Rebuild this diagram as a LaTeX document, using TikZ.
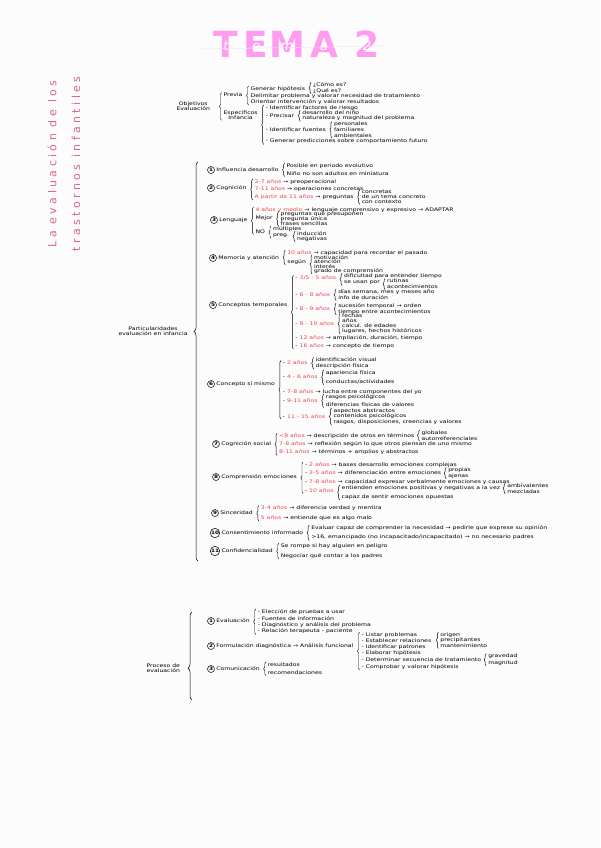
\documentclass[tikz,border=0pt]{standalone}
\usepackage{fontspec}
\setmainfont[FakeStretch=1.25]{DejaVu Sans}
\newfontfamily\sidefont[LetterSpace=31]{DejaVu Sans}
\newfontfamily\headfont{DejaVu Sans}
\usepackage{xcolor}
\usepackage{tikz}
\usetikzlibrary{positioning,decorations.pathreplacing}

\definecolor{agered}{HTML}{E8474F}
\definecolor{titlepink}{HTML}{FF9CF0}
\definecolor{sidepink}{HTML}{D8668A}
\definecolor{paper}{HTML}{FCFCFC}

% brace from first to last child, tip towards the parent
\newcommand{\brk}[2]{\draw[brc] ([xshift=-1.5pt]#2.south west) -- ([xshift=-1.5pt]#1.north west);}
\newcommand{\ag}[1]{\textcolor{agered}{#1}}
% big pink letter with the white script letter on it
\newcommand{\tletter}[2]{\ooalign{#1\cr\hidewidth\raisebox{7pt}{\fontsize{13}{13}\selectfont\mdseries\itshape\textcolor{white}{#2}}\hidewidth\cr}}

\begin{document}
\begin{tikzpicture}[x=1pt,y=1pt,
  tx/.style={anchor=west,inner sep=.4pt,font=\fontsize{4.9}{5.4}\selectfont},
  hd/.style={tx,align=center},
  numc/.style={draw,circle,line width=.5pt,inner sep=.3pt,minimum size=7pt,
               font=\fontsize{4.6}{5}\selectfont\bfseries},
  brc/.style={decorate,decoration={brace,amplitude=2pt},line width=.45pt},
  bigbrc/.style={decorate,line width=.5pt},
  ttl/.style={font=\headfont\fontsize{36}{36}\selectfont\bfseries,text=titlepink,inner sep=0pt},
  side/.style={font=\sidefont\fontsize{11}{11}\selectfont,text=sidepink,rotate=90,inner sep=0pt}
]
\fill[paper] (0,0) rectangle (600,-848);
\useasboundingbox (0,0) rectangle (600,-848);

% title
\node[ttl] (tT) at (226,-44) {\tletter{T}{t}};
\node[ttl] (tE) at (256,-44) {\tletter{E}{e}};
\node[ttl] (tM) at (287,-44) {\tletter{M}{m}};
\node[ttl] (tA) at (324,-44) {\tletter{A}{a}};
\node[ttl] (t2) at (367,-44) {\tletter{2}{2}};
\draw[titlepink!35,line width=.5pt] ([xshift=-12pt,yshift=-5pt]tT.west) -- ([xshift=6pt,yshift=-2pt]t2.east);

\node[side] (st1) at (52,-164) {La evaluación de los};
\node[side] (st2) at (76,-164) {trastornos infantiles};

% objetivos
\node[hd] (obj) at (176,-106) {Objetivos\\Evaluación};
\node[tx] (prv) at (223,-95) {Previa};
\node[hd] (esp) at (223,-115) {Específicos\\Infancia};
\brk{prv}{esp}

\node[tx] (hip) at ([xshift=7pt,yshift=6pt]prv.east) {Generar hipótesis};
\node[tx] (del) at ([xshift=7pt,yshift=-1pt]prv.east) {Delimitar problema y valorar necesidad de tratamiento};
\node[tx] (ori) at ([xshift=7pt,yshift=-7pt]prv.east) {Orientar intervención y valorar resultados};
\brk{hip}{ori}
\node[tx] (qcm) at ([xshift=7pt,yshift=4pt]hip.east) {¿Cómo es?};
\node[tx] (qqe) at ([xshift=7pt,yshift=-2pt]hip.east) {¿Qué es?};
\brk{qcm}{qqe}

\node[tx] (rsg) at ([xshift=7pt,yshift=7pt]esp.east) {- Identificar factores de riesgo};
\node[tx] (pre) at ([xshift=7pt,yshift=-1pt]esp.east) {- Precisar};
\node[tx] (fue) at ([xshift=7pt,yshift=-14.5pt]esp.east) {- Identificar fuentes};
\node[tx] (gen) at ([xshift=7pt,yshift=-26.5pt]esp.east) {- Generar predicciones sobre comportamiento futuro};
\brk{rsg}{gen}
\node[tx] (dsn) at ([xshift=7pt,yshift=3.5pt]pre.east) {desarrollo del niño};
\node[tx] (nat) at ([xshift=7pt,yshift=-2.5pt]pre.east) {naturaleza y magnitud del problema};
\brk{dsn}{nat}
\node[tx] (fpe) at ([xshift=7pt,yshift=5pt]fue.east) {personales};
\node[tx] (ffa) at ([xshift=7pt,yshift=-.5pt]fue.east) {familiares};
\node[tx] (fam) at ([xshift=7pt,yshift=-6pt]fue.east) {ambientales};
\brk{fpe}{fam}

% particularidades
\node[hd] (part) at (118,-331) {Particularidades\\evaluación en infancia};
\coordinate (pb1) at (198,-162);
\coordinate (pb2) at (198,-561);
\draw[bigbrc,decoration={brace,amplitude=4pt,aspect=.575}] (pb2) -- (pb1);

% 1 influencia
\node[numc] (n1) at (211,-170) {1};
\node[tx,right=1pt of n1] (i1) {Influencia desarrollo};
\node[tx] (a1) at ([xshift=7pt,yshift=4pt]i1.east) {Posible en periodo evolutivo};
\node[tx] (a2) at ([xshift=7pt,yshift=-4pt]i1.east) {Niño no son adultos en miniatura};
\brk{a1}{a2}

% 2 cognicion
\node[numc] (n2) at (211,-188) {2};
\node[tx,right=1pt of n2] (i2) {Cognición};
\node[tx] (c21) at ([xshift=7pt,yshift=6pt]i2.east) {\ag{2-7 años} → preoperacional};
\node[tx] (c22) at ([xshift=7pt,yshift=-1pt]i2.east) {\ag{7-11 años} → operaciones concretas};
\node[tx] (c23) at ([xshift=7pt,yshift=-9pt]i2.east) {\ag{A partir de 11 años} → preguntas};
\brk{c21}{c23}
\node[tx] (c31) at ([xshift=7pt,yshift=5pt]c23.east) {concretas};
\node[tx] (c32) at ([xshift=7pt,yshift=0pt]c23.east) {de un tema concreto};
\node[tx] (c33) at ([xshift=7pt,yshift=-5pt]c23.east) {con contexto};
\brk{c31}{c33}

% 3 lenguaje
\node[numc] (n3) at (214,-220) {3};
\node[tx,right=1pt of n3] (i3) {Lenguaje};
\node[tx] (l1) at ([xshift=7pt,yshift=10pt]i3.east) {\ag{4 años y medio} → lenguaje comprensivo y expresivo → ADAPTAR};
\node[tx] (l2) at ([xshift=7pt,yshift=2pt]i3.east) {Mejor};
\node[tx] (l3) at ([xshift=7pt,yshift=-12pt]i3.east) {NO};
\brk{l1}{l3}
\node[tx] (m21) at ([xshift=7pt,yshift=4pt]l2.east) {preguntas que presuponen};
\node[tx] (m22) at ([xshift=7pt,yshift=-1pt]l2.east) {pregunta única};
\node[tx] (m23) at ([xshift=7pt,yshift=-6pt]l2.east) {frases sencillas};
\brk{m21}{m23}
\node[tx] (no1) at ([xshift=7pt,yshift=3pt]l3.east) {múltiples};
\node[tx] (no2) at ([xshift=7pt,yshift=-4pt]l3.east) {preg.};
\brk{no1}{no2}
\node[tx] (pg1) at ([xshift=7pt,yshift=2.5pt]no2.east) {inducción};
\node[tx] (pg2) at ([xshift=7pt,yshift=-3pt]no2.east) {negativas};
\brk{pg1}{pg2}

% 4 memoria
\node[numc] (n4) at (213,-258) {4};
\node[tx,right=1pt of n4] (i4) {Memoria y atención};
\node[tx] (me1) at ([xshift=7pt,yshift=5pt]i4.east) {\ag{10 años} → capacidad para recordar el pasado};
\node[tx] (me2) at ([xshift=7pt,yshift=-4pt]i4.east) {según};
\brk{me1}{me2}
\node[tx] (sg1) at ([xshift=7pt,yshift=4.5pt]me2.east) {motivación};
\node[tx] (sg2) at ([xshift=7pt,yshift=0pt]me2.east) {atención};
\node[tx] (sg3) at ([xshift=7pt,yshift=-4.5pt]me2.east) {interés};
\node[tx] (sg4) at ([xshift=7pt,yshift=-9pt]me2.east) {grado de comprensión};
\brk{sg1}{sg4}

% 5 conceptos temporales
\node[numc] (n5) at (213,-305) {5};
\node[tx,right=1pt of n5] (i5) {Conceptos temporales};
\node[tx] (t1) at ([xshift=7pt,yshift=27pt]i5.east) {- \ag{3/5 - 5 años}};
\node[tx] (t2) at ([xshift=7pt,yshift=10pt]i5.east) {- \ag{6 - 8 años}};
\node[tx] (t3) at ([xshift=7pt,yshift=-4pt]i5.east) {- \ag{8 - 9 años}};
\node[tx] (t4) at ([xshift=7pt,yshift=-19pt]i5.east) {- \ag{9 - 10 años}};
\node[tx] (t5) at ([xshift=7pt,yshift=-33.5pt]i5.east) {- \ag{12 años} → ampliación, duración, tiempo};
\node[tx] (t6) at ([xshift=7pt,yshift=-41pt]i5.east) {- \ag{16 años} → concepto de tiempo};
\brk{t1}{t6}
\node[tx] (t11) at ([xshift=7pt,yshift=2pt]t1.east) {dificultad para entender tiempo};
\node[tx] (t12) at ([xshift=7pt,yshift=-5pt]t1.east) {se usan por};
\brk{t11}{t12}
\node[tx] (ru1) at ([xshift=6pt,yshift=2pt]t12.east) {rutinas};
\node[tx] (ru2) at ([xshift=6pt,yshift=-4pt]t12.east) {acontecimientos};
\brk{ru1}{ru2}
\node[tx] (t21) at ([xshift=7pt,yshift=3pt]t2.east) {días semana, mes y meses año};
\node[tx] (t22) at ([xshift=7pt,yshift=-3pt]t2.east) {info de duración};
\brk{t21}{t22}
\node[tx] (t31) at ([xshift=7pt,yshift=3pt]t3.east) {sucesión temporal → orden};
\node[tx] (t32) at ([xshift=7pt,yshift=-3pt]t3.east) {tiempo entre acontecimientos};
\brk{t31}{t32}
\node[tx] (t41) at ([xshift=7pt,yshift=8pt]t4.east) {fechas};
\node[tx] (t42) at ([xshift=7pt,yshift=3pt]t4.east) {años};
\node[tx] (t43) at ([xshift=7pt,yshift=-2pt]t4.east) {calcul. de edades};
\node[tx] (t44) at ([xshift=7pt,yshift=-7pt]t4.east) {lugares, hechos históricos};
\brk{t41}{t44}

% 6 concepto si mismo
\node[numc] (n6) at (211,-384) {6};
\node[tx,right=1pt of n6] (i6) {Concepto sí mismo};
\node[tx] (s1) at ([xshift=7pt,yshift=21pt]i6.east) {- \ag{2 años}};
\node[tx] (s2) at ([xshift=7pt,yshift=7pt]i6.east) {- \ag{4 - 6 años}};
\node[tx] (s3) at ([xshift=7pt,yshift=-8pt]i6.east) {- \ag{7-8 años} → lucha entre componentes del yo};
\node[tx] (s4) at ([xshift=7pt,yshift=-17pt]i6.east) {- \ag{9-11 años}};
\node[tx] (s5) at ([xshift=7pt,yshift=-32.5pt]i6.east) {- \ag{11 - 15 años}};
\brk{s1}{s5}
\node[tx] (s11) at ([xshift=7pt,yshift=3pt]s1.east) {identificación visual};
\node[tx] (s12) at ([xshift=7pt,yshift=-3pt]s1.east) {descripción física};
\brk{s11}{s12}
\node[tx] (s21) at ([xshift=7pt,yshift=4pt]s2.east) {apariencia física};
\node[tx] (s22) at ([xshift=7pt,yshift=-5pt]s2.east) {conductas/actividades};
\brk{s21}{s22}
\node[tx] (s41) at ([xshift=7pt,yshift=4pt]s4.east) {rasgos psicológicos};
\node[tx] (s42) at ([xshift=7pt,yshift=-4pt]s4.east) {diferencias físicas de valores};
\brk{s41}{s42}
\node[tx] (s51) at ([xshift=7pt,yshift=5.5pt]s5.east) {aspectos abstractos};
\node[tx] (s52) at ([xshift=7pt,yshift=0pt]s5.east) {contenidos psicológicos};
\node[tx] (s53) at ([xshift=7pt,yshift=-5.5pt]s5.east) {rasgos, disposiciones, creencias y valores};
\brk{s51}{s53}

% 7 cognicion social
\node[numc] (n7) at (216,-444) {7};
\node[tx,right=1pt of n7] (i7) {Cognición social};
\node[tx] (o1) at ([xshift=7pt,yshift=8pt]i7.east) {\ag{<8 años} → descripción de otros en términos};
\node[tx] (o2) at ([xshift=7pt,yshift=0pt]i7.east) {\ag{7-8 años} → reflexión según lo que otros piensan de uno mismo};
\node[tx] (o3) at ([xshift=7pt,yshift=-8.5pt]i7.east) {\ag{8-11 años} → términos + amplios y abstractos};
\brk{o1}{o3}
\node[tx] (o11) at ([xshift=6pt,yshift=3pt]o1.east) {globales};
\node[tx] (o12) at ([xshift=6pt,yshift=-2.5pt]o1.east) {autorreferenciales};
\brk{o11}{o12}

% 8 comprension emociones
\node[numc] (n8) at (216,-477) {8};
\node[tx,right=1pt of n8] (i8) {Comprensión emociones};
\node[tx] (e1) at ([xshift=7pt,yshift=12pt]i8.east) {- \ag{2 años} → bases desarrollo emociones complejas};
\node[tx] (e2) at ([xshift=7pt,yshift=4pt]i8.east) {- \ag{3-5 años} → diferenciación entre emociones};
\node[tx] (e3) at ([xshift=7pt,yshift=-5pt]i8.east) {- \ag{7-8 años} → capacidad expresar verbalmente emociones y causas};
\node[tx] (e4) at ([xshift=7pt,yshift=-14pt]i8.east) {- \ag{10 años}};
\brk{e1}{e4}
\node[tx] (e21) at ([xshift=6pt,yshift=2.5pt]e2.east) {propias};
\node[tx] (e22) at ([xshift=6pt,yshift=-3pt]e2.east) {ajenas};
\brk{e21}{e22}
\node[tx] (e41) at ([xshift=7pt,yshift=3pt]e4.east) {entienden emociones positivas y negativas a la vez};
\node[tx] (e42) at ([xshift=7pt,yshift=-6pt]e4.east) {capaz de sentir emociones opuestas};
\brk{e41}{e42}
\node[tx] (e51) at ([xshift=6pt,yshift=2.5pt]e41.east) {ambivalentes};
\node[tx] (e52) at ([xshift=6pt,yshift=-3.5pt]e41.east) {mezcladas};
\brk{e51}{e52}

% 9 sinceridad
\node[numc] (n9) at (215,-513) {9};
\node[tx,right=1pt of n9] (i9) {Sinceridad};
\node[tx] (r1) at ([xshift=7pt,yshift=4.5pt]i9.east) {\ag{3-4 años} → diferencia verdad y mentira};
\node[tx] (r2) at ([xshift=7pt,yshift=-5pt]i9.east) {\ag{5 años} → entiende que es algo malo};
\brk{r1}{r2}

% 10 consentimiento
\node[numc] (n10) at (215,-533) {10};
\node[tx,right=1pt of n10] (i10) {Consentimiento informado};
\node[tx] (co1) at ([xshift=7pt,yshift=5pt]i10.east) {Evaluar capaz de comprender la necesidad → pedirle que exprese su opinión};
\node[tx] (co2) at ([xshift=7pt,yshift=-4.5pt]i10.east) {>16, emancipado (no incapacitado/incapacitado) → no necesario padres};
\brk{co1}{co2}

% 11 confidencialidad
\node[numc] (n11) at (215,-551) {11};
\node[tx,right=1pt of n11] (i11) {Confidencialidad};
\node[tx] (cf1) at ([xshift=7pt,yshift=5pt]i11.east) {Se rompe si hay alguien en peligro};
\node[tx] (cf2) at ([xshift=7pt,yshift=-5pt]i11.east) {Negociar qué contar a los padres};
\brk{cf1}{cf2}

% proceso de evaluacion
\node[hd] (proc) at (146,-668) {Proceso de\\evaluación};
\coordinate (pe1) at (192,-612);
\coordinate (pe2) at (192,-700);
\draw[bigbrc,decoration={brace,amplitude=4pt,aspect=.36}] (pe2) -- (pe1);

\node[numc] (q1) at (211,-621) {1};
\node[tx,right=1pt of q1] (p1) {Evaluación};
\node[tx] (p11) at ([xshift=7pt,yshift=9pt]p1.east) {- Elección de pruebas a usar};
\node[tx] (p12) at ([xshift=7pt,yshift=2.5pt]p1.east) {- Fuentes de información};
\node[tx] (p13) at ([xshift=7pt,yshift=-4pt]p1.east) {- Diagnóstico y análisis del problema};
\node[tx] (p14) at ([xshift=7pt,yshift=-10.5pt]p1.east) {- Relación terapeuta - paciente};
\brk{p11}{p14}

\node[numc] (q2) at (211,-646) {2};
\node[tx,right=1pt of q2] (p2) {Formulación diagnóstica → Análisis funcional};
\node[tx] (p21) at ([xshift=7pt,yshift=11pt]p2.east) {- Listar problemas};
\node[tx] (p22) at ([xshift=7pt,yshift=5pt]p2.east) {- Establecer relaciones};
\node[tx] (p23) at ([xshift=7pt,yshift=-1pt]p2.east) {- Identificar patrones};
\node[tx] (p24) at ([xshift=7pt,yshift=-7.5pt]p2.east) {- Elaborar hipótesis};
\node[tx] (p25) at ([xshift=7pt,yshift=-14pt]p2.east) {- Determinar secuencia de tratamiento};
\node[tx] (p26) at ([xshift=7pt,yshift=-21pt]p2.east) {- Comprobar y valorar hipótesis};
\brk{p21}{p26}
\node[tx] (rl1) at ([xshift=8pt,yshift=6pt]p22.east) {origen};
\node[tx] (rl2) at ([xshift=8pt,yshift=.5pt]p22.east) {precipitantes};
\node[tx] (rl3) at ([xshift=8pt,yshift=-5pt]p22.east) {mantenimiento};
\brk{rl1}{rl3}
\node[tx] (sq1) at ([xshift=6pt,yshift=3.5pt]p25.east) {gravedad};
\node[tx] (sq2) at ([xshift=6pt,yshift=-3pt]p25.east) {magnitud};
\brk{sq1}{sq2}

\node[numc] (q3) at (211,-669) {3};
\node[tx,right=1pt of q3] (p3) {Comunicación};
\node[tx] (p31) at ([xshift=7pt,yshift=4.5pt]p3.east) {resultados};
\node[tx] (p32) at ([xshift=7pt,yshift=-4pt]p3.east) {recomendaciones};
\brk{p31}{p32}
\end{tikzpicture}
\end{document}
